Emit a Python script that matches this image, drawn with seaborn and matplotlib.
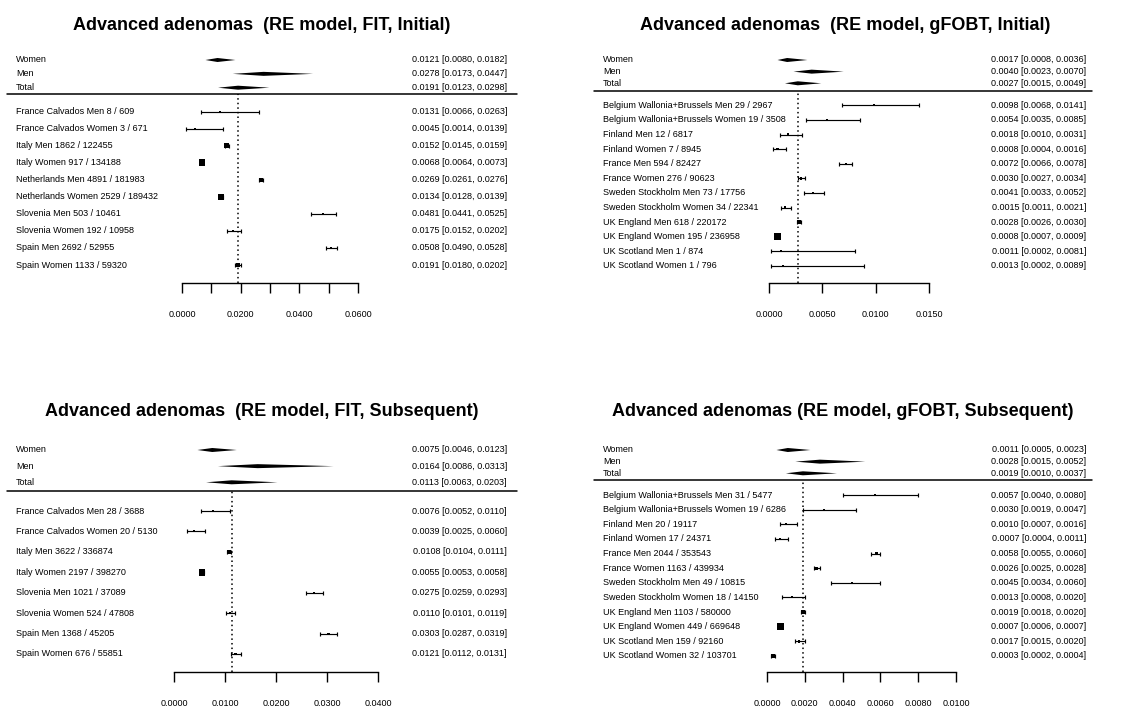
import matplotlib
matplotlib.use("Agg")
import matplotlib.pyplot as plt
from matplotlib.lines import Line2D
from matplotlib.transforms import blended_transform_factory
import numpy as np
import pandas as pd
import seaborn as sns

W, H = 1136, 708

summary_labels = ["Women", "Men", "Total"]

# ---- FIT, initial ----
fit_init_names = ["France Calvados Men", "France Calvados Women", "Italy Men", "Italy Women",
                  "Netherlands Men", "Netherlands Women", "Slovenia Men", "Slovenia Women",
                  "Spain Men", "Spain Women"]
fit_init_events = [8, 3, 1862, 917, 4891, 2529, 503, 192, 2692, 1133]
fit_init_n = [609, 671, 122455, 134188, 181983, 189432, 10461, 10958, 52955, 59320]
fit_init_est = [0.0131, 0.0045, 0.0152, 0.0068, 0.0269, 0.0134, 0.0481, 0.0175, 0.0508, 0.0191]
fit_init_lo = [0.0066, 0.0014, 0.0145, 0.0064, 0.0261, 0.0128, 0.0441, 0.0152, 0.0490, 0.0180]
fit_init_hi = [0.0263, 0.0139, 0.0159, 0.0073, 0.0276, 0.0139, 0.0525, 0.0202, 0.0528, 0.0202]
fit_init_sum_est = [0.0121, 0.0278, 0.0191]
fit_init_sum_lo = [0.0080, 0.0173, 0.0123]
fit_init_sum_hi = [0.0182, 0.0447, 0.0298]
fit_init_ticks = [0.0, 0.01, 0.02, 0.03, 0.04, 0.05, 0.06]
fit_init_ticklabels = ["0.0000", "", "0.0200", "", "0.0400", "", "0.0600"]

# ---- gFOBT, initial ----
gfobt_names = ["Belgium Wallonia+Brussels Men", "Belgium Wallonia+Brussels Women",
               "Finland Men", "Finland Women", "France Men", "France Women",
               "Sweden Stockholm Men", "Sweden Stockholm Women", "UK England Men",
               "UK England Women", "UK Scotland Men", "UK Scotland Women"]
gfobt_init_events = [29, 19, 12, 7, 594, 276, 73, 34, 618, 195, 1, 1]
gfobt_init_n = [2967, 3508, 6817, 8945, 82427, 90623, 17756, 22341, 220172, 236958, 874, 796]
gfobt_init_est = [0.0098, 0.0054, 0.0018, 0.0008, 0.0072, 0.0030, 0.0041, 0.0015, 0.0028, 0.0008, 0.0011, 0.0013]
gfobt_init_lo = [0.0068, 0.0035, 0.0010, 0.0004, 0.0066, 0.0027, 0.0033, 0.0011, 0.0026, 0.0007, 0.0002, 0.0002]
gfobt_init_hi = [0.0141, 0.0085, 0.0031, 0.0016, 0.0078, 0.0034, 0.0052, 0.0021, 0.0030, 0.0009, 0.0081, 0.0089]
gfobt_init_sum_est = [0.0017, 0.0040, 0.0027]
gfobt_init_sum_lo = [0.0008, 0.0023, 0.0015]
gfobt_init_sum_hi = [0.0036, 0.0070, 0.0049]
gfobt_init_ticks = [0.0, 0.005, 0.01, 0.015]
gfobt_init_ticklabels = ["0.0000", "0.0050", "0.0100", "0.0150"]

# ---- FIT, subsequent ----
fit_sub_names = ["France Calvados Men", "France Calvados Women", "Italy Men", "Italy Women",
                 "Slovenia Men", "Slovenia Women", "Spain Men", "Spain Women"]
fit_sub_events = [28, 20, 3622, 2197, 1021, 524, 1368, 676]
fit_sub_n = [3688, 5130, 336874, 398270, 37089, 47808, 45205, 55851]
fit_sub_est = [0.0076, 0.0039, 0.0108, 0.0055, 0.0275, 0.0110, 0.0303, 0.0121]
fit_sub_lo = [0.0052, 0.0025, 0.0104, 0.0053, 0.0259, 0.0101, 0.0287, 0.0112]
fit_sub_hi = [0.0110, 0.0060, 0.0111, 0.0058, 0.0293, 0.0119, 0.0319, 0.0131]
fit_sub_sum_est = [0.0075, 0.0164, 0.0113]
fit_sub_sum_lo = [0.0046, 0.0086, 0.0063]
fit_sub_sum_hi = [0.0123, 0.0313, 0.0203]
fit_sub_ticks = [0.0, 0.01, 0.02, 0.03, 0.04]
fit_sub_ticklabels = ["0.0000", "0.0100", "0.0200", "0.0300", "0.0400"]

# ---- gFOBT, subsequent ----
gfobt_sub_events = [31, 19, 20, 17, 2044, 1163, 49, 18, 1103, 449, 159, 32]
gfobt_sub_n = [5477, 6286, 19117, 24371, 353543, 439934, 10815, 14150, 580000, 669648, 92160, 103701]
gfobt_sub_est = [0.0057, 0.0030, 0.0010, 0.0007, 0.0058, 0.0026, 0.0045, 0.0013, 0.0019, 0.0007, 0.0017, 0.0003]
gfobt_sub_lo = [0.0040, 0.0019, 0.0007, 0.0004, 0.0055, 0.0025, 0.0034, 0.0008, 0.0018, 0.0006, 0.0015, 0.0002]
gfobt_sub_hi = [0.0080, 0.0047, 0.0016, 0.0011, 0.0060, 0.0028, 0.0060, 0.0020, 0.0020, 0.0007, 0.0020, 0.0004]
gfobt_sub_sum_est = [0.0011, 0.0028, 0.0019]
gfobt_sub_sum_lo = [0.0005, 0.0015, 0.0010]
gfobt_sub_sum_hi = [0.0023, 0.0052, 0.0037]
gfobt_sub_ticks = [0.0, 0.002, 0.004, 0.006, 0.008, 0.01]
gfobt_sub_ticklabels = ["0.0000", "0.0020", "0.0040", "0.0060", "0.0080", "0.0100"]

panels = [
    dict(title="Advanced adenomas  (RE model, FIT, Initial)",
         names=fit_init_names, events=fit_init_events, n=fit_init_n,
         est=fit_init_est, lo=fit_init_lo, hi=fit_init_hi,
         sum_est=fit_init_sum_est, sum_lo=fit_init_sum_lo, sum_hi=fit_init_sum_hi,
         ticks=fit_init_ticks, ticklabels=fit_init_ticklabels,
         lay=dict(title=(262, 25), lab_x=16, val_x=507, x0=182, x1=358,
                  sum_rows=(60, 87.7), sep=94.3, sep_x=(7, 517),
                  first=111.7, last=265, axis=283)),
    dict(title="Advanced adenomas  (RE model, gFOBT, Initial)",
         names=gfobt_names, events=gfobt_init_events, n=gfobt_init_n,
         est=gfobt_init_est, lo=gfobt_init_lo, hi=gfobt_init_hi,
         sum_est=gfobt_init_sum_est, sum_lo=gfobt_init_sum_lo, sum_hi=gfobt_init_sum_hi,
         ticks=gfobt_init_ticks, ticklabels=gfobt_init_ticklabels,
         lay=dict(title=(845, 25), lab_x=603, val_x=1086, x0=769, x1=929,
                  sum_rows=(60, 83.3), sep=90.7, sep_x=(594, 1092),
                  first=105.3, last=266, axis=283.3)),
    dict(title="Advanced adenomas  (RE model, FIT, Subsequent)",
         names=fit_sub_names, events=fit_sub_events, n=fit_sub_n,
         est=fit_sub_est, lo=fit_sub_lo, hi=fit_sub_hi,
         sum_est=fit_sub_sum_est, sum_lo=fit_sub_sum_lo, sum_hi=fit_sub_sum_hi,
         ticks=fit_sub_ticks, ticklabels=fit_sub_ticklabels,
         lay=dict(title=(262, 411), lab_x=16, val_x=507, x0=174, x1=378,
                  sum_rows=(450, 482.3), sep=490.7, sep_x=(7, 517),
                  first=511, last=654, axis=672.3)),
    dict(title="Advanced adenomas (RE model, gFOBT, Subsequent)",
         names=gfobt_names, events=gfobt_sub_events, n=gfobt_sub_n,
         est=gfobt_sub_est, lo=gfobt_sub_lo, hi=gfobt_sub_hi,
         sum_est=gfobt_sub_sum_est, sum_lo=gfobt_sub_sum_lo, sum_hi=gfobt_sub_sum_hi,
         ticks=gfobt_sub_ticks, ticklabels=gfobt_sub_ticklabels,
         lay=dict(title=(843, 411), lab_x=603, val_x=1086, x0=767, x1=956,
                  sum_rows=(450, 473.3), sep=480, sep_x=(594, 1092),
                  first=495, last=656, axis=672.3)),
]

sns.set_theme(style="white")
plt.rcParams['font.family'] = ['Liberation Sans', 'DejaVu Sans']
FS = 6.5


def fx(p):
    return p / W


def fy(p):
    return 1 - p / H


def draw_panel(fig, d):
    lay = d['lay']
    est = np.array(d['est'])
    lo = np.array(d['lo'])
    hi = np.array(d['hi'])
    k = len(est)
    rows = np.arange(k)
    sp = (lay['last'] - lay['first']) / (k - 1)

    # study rows
    ax = fig.add_axes([fx(lay['x0']), fy(lay['axis']),
                       fx(lay['x1']) - fx(lay['x0']), (lay['axis'] - lay['sep']) / H])
    ax.set_xlim(d['ticks'][0], d['ticks'][-1])
    ax.set_ylim((lay['axis'] - lay['first']) / sp, (lay['sep'] - lay['first']) / sp)

    # marker size follows inverse-variance weight
    p = np.array(d['events']) / np.array(d['n'])
    w = np.array(d['n']) / (p * (1 - p))
    df = pd.DataFrame({'est': est, 'row': rows, 'w': w})

    ax.errorbar(est, rows, xerr=[est - lo, hi - est], fmt='none', ecolor='black',
                elinewidth=0.85, capsize=1.2, capthick=0.85, zorder=2)
    sns.scatterplot(data=df, x='est', y='row', size='w', sizes=(2, 23), marker='s',
                    color='black', linewidth=0, legend=False, ax=ax, zorder=3)
    ax.axvline(d['sum_est'][2], color='black', lw=1.1, ls=(0, (1, 2)), zorder=1)

    for s in ['top', 'left', 'right']:
        ax.spines[s].set_visible(False)
    ax.spines['bottom'].set_color('black')
    ax.spines['bottom'].set_linewidth(1)
    ax.set_xticks(d['ticks'])
    ax.set_xticklabels(d['ticklabels'])
    ax.set_yticks([])
    ax.set_xlabel('')
    ax.set_ylabel('')
    ax.tick_params(axis='x', bottom=True, direction='out', length=7.2, width=1,
                   color='black', pad=12, labelsize=FS, labelcolor='black')
    ax.patch.set_alpha(0)

    tr = blended_transform_factory(fig.transFigure, ax.transData)
    for i in range(k):
        ax.text(fx(lay['lab_x']), i, f"{d['names'][i]} {d['events'][i]} / {d['n'][i]}",
                transform=tr, ha='left', va='center', fontsize=FS, color='black')
        ax.text(fx(lay['val_x']), i, f"{est[i]:.4f} [{lo[i]:.4f}, {hi[i]:.4f}]",
                transform=tr, ha='right', va='center', fontsize=FS, color='black')

    # summary rows (Women / Men / Total)
    r0, r2 = lay['sum_rows']
    ssp = (r2 - r0) / 2
    top = r0 - ssp
    axs = fig.add_axes([fx(lay['x0']), fy(lay['sep']),
                        fx(lay['x1']) - fx(lay['x0']), (lay['sep'] - top) / H])
    axs.set_xlim(d['ticks'][0], d['ticks'][-1])
    axs.set_ylim((lay['sep'] - r0) / ssp, -1)
    axs.axis('off')
    hh = 2.0 / ssp
    trs = blended_transform_factory(fig.transFigure, axs.transData)
    for j in range(3):
        e, l, h = d['sum_est'][j], d['sum_lo'][j], d['sum_hi'][j]
        axs.fill([l, e, h, e], [j, j - hh, j, j + hh], color='black', lw=0)
        axs.text(fx(lay['lab_x']), j, summary_labels[j], transform=trs,
                 ha='left', va='center', fontsize=FS, color='black')
        axs.text(fx(lay['val_x']), j, f"{e:.4f} [{l:.4f}, {h:.4f}]", transform=trs,
                 ha='right', va='center', fontsize=FS, color='black')

    fig.add_artist(Line2D([fx(lay['sep_x'][0]), fx(lay['sep_x'][1])],
                          [fy(lay['sep']), fy(lay['sep'])],
                          transform=fig.transFigure, color='black', lw=1.1))
    tx, ty = lay['title']
    fig.text(fx(tx), fy(ty), d['title'], ha='center', va='center',
             fontsize=13, fontweight='bold', color='black')


fig = plt.figure(figsize=(W / 100, H / 100), dpi=100)
for d in panels:
    draw_panel(fig, d)

plt.savefig("out.png", dpi=100)
